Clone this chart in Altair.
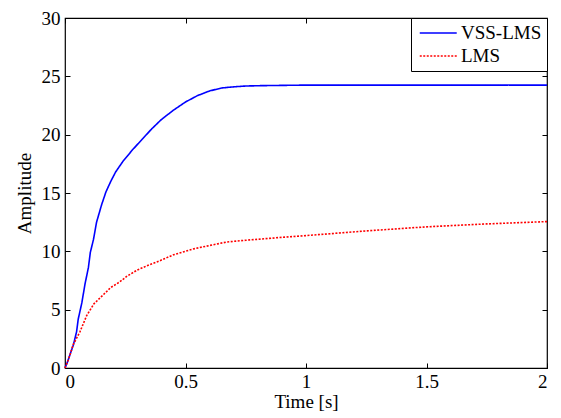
import altair as alt
import pandas as pd

# VSS-LMS curve (time [s], amplitude)
vss_t = [0, 0.01, 0.02, 0.035, 0.048, 0.055, 0.07, 0.083, 0.097, 0.105, 0.118, 0.131,
         0.152, 0.17, 0.19, 0.21, 0.24, 0.28, 0.32, 0.36, 0.40, 0.45, 0.50, 0.55,
         0.60, 0.65, 0.70, 0.75, 0.81, 1.0, 1.5, 2.0]
vss_y = [0, 0.5, 1.1, 2.0, 3.1, 4.2, 5.6, 7.2, 8.6, 9.9, 11.0, 12.5,
         14.0, 15.1, 16.0, 16.8, 17.7, 18.7, 19.6, 20.5, 21.3, 22.1, 22.8, 23.35,
         23.75, 24.0, 24.1, 24.17, 24.2, 24.25, 24.25, 24.25]

# LMS curve
lms_t = [0, 0.014, 0.034, 0.062, 0.09, 0.12, 0.15, 0.19, 0.225, 0.256, 0.3, 0.35, 0.394,
         0.45, 0.531, 0.6, 0.671, 0.75, 0.81, 0.9, 1.0, 1.25, 1.5, 1.75, 2.0]
lms_y = [0, 0.7, 2.0, 3.1, 4.5, 5.5, 6.1, 6.9, 7.35, 7.85, 8.4, 8.85, 9.2,
         9.7, 10.2, 10.5, 10.8, 10.95, 11.05, 11.2, 11.35, 11.75, 12.1, 12.35, 12.55]

series = ["VSS-LMS", "LMS"]
colors = ["#0000ff", "#ff0000"]
x_ticks = [0, 0.5, 1, 1.5, 2]
y_ticks = [0, 5, 10, 15, 20, 25, 30]

df = pd.concat([
    pd.DataFrame({"t": vss_t, "y": vss_y, "series": series[0]}),
    pd.DataFrame({"t": lms_t, "y": lms_y, "series": series[1]}),
], ignore_index=True)

FONT = "Liberation Serif"
xscale = alt.Scale(domain=[0, 2], nice=False, zero=False)
yscale = alt.Scale(domain=[0, 30], nice=False, zero=False)

base = alt.Chart(df)

lines = base.mark_line(strokeWidth=1.6).encode(
    x=alt.X("t:Q", scale=xscale, axis=alt.Axis(
        orient="bottom", values=x_ticks, labelExpr="'' + datum.value",
        tickSize=0, domain=False, grid=False, labelPadding=4,
        title="Time [s]", titlePadding=1)),
    y=alt.Y("y:Q", scale=yscale, axis=alt.Axis(
        orient="left", values=y_ticks, tickSize=0, domain=False, grid=False,
        labelPadding=5, title="Amplitude", titlePadding=7)),
    color=alt.Color("series:N", scale=alt.Scale(domain=series, range=colors),
                    legend=alt.Legend(title=None)),
    strokeDash=alt.StrokeDash("series:N",
                              scale=alt.Scale(domain=series, range=[[1, 0], [2, 1.5]]),
                              legend=alt.Legend(title=None)),
    order=alt.Order("t:Q"),
)

tick_axis = dict(tickSize=5, labels=False, domain=False, grid=False, title=None,
                 offset=-5, tickColor="black", tickWidth=1)

ticks_bl = base.mark_point(opacity=0).encode(
    x=alt.X("t:Q", scale=xscale, axis=alt.Axis(orient="bottom", values=x_ticks, **tick_axis)),
    y=alt.Y("y:Q", scale=yscale, axis=alt.Axis(orient="left", values=y_ticks, **tick_axis)),
)
ticks_tr = base.mark_point(opacity=0).encode(
    x=alt.X("t:Q", scale=xscale, axis=alt.Axis(orient="top", values=x_ticks, **tick_axis)),
    y=alt.Y("y:Q", scale=yscale, axis=alt.Axis(orient="right", values=y_ticks, **tick_axis)),
)

chart = alt.layer(lines, ticks_bl, ticks_tr).resolve_axis(
    x="independent", y="independent"
).properties(
    width=482, height=350,
    autosize=alt.AutoSizeParams(type="none"),
    padding={"left": 57, "top": 10, "right": 6, "bottom": 50},
).configure_view(
    stroke="black", strokeWidth=1.2
).configure_axis(
    labelFont=FONT, labelFontSize=19, labelColor="black",
    titleFont=FONT, titleFontSize=19, titleColor="black", titleFontWeight="normal",
).configure_legend(
    orient="top-right", offset=0, padding=5,
    strokeColor="black", fillColor="white",
    symbolType="M-1,0H3", symbolSize=342, symbolStrokeWidth=1.5,
    labelFont=FONT, labelFontSize=19, labelColor="black", labelOffset=22,
    rowPadding=3, symbolOffset=3,
)

chart.save("out.html", embed_options={"renderer": "svg", "actions": False})
